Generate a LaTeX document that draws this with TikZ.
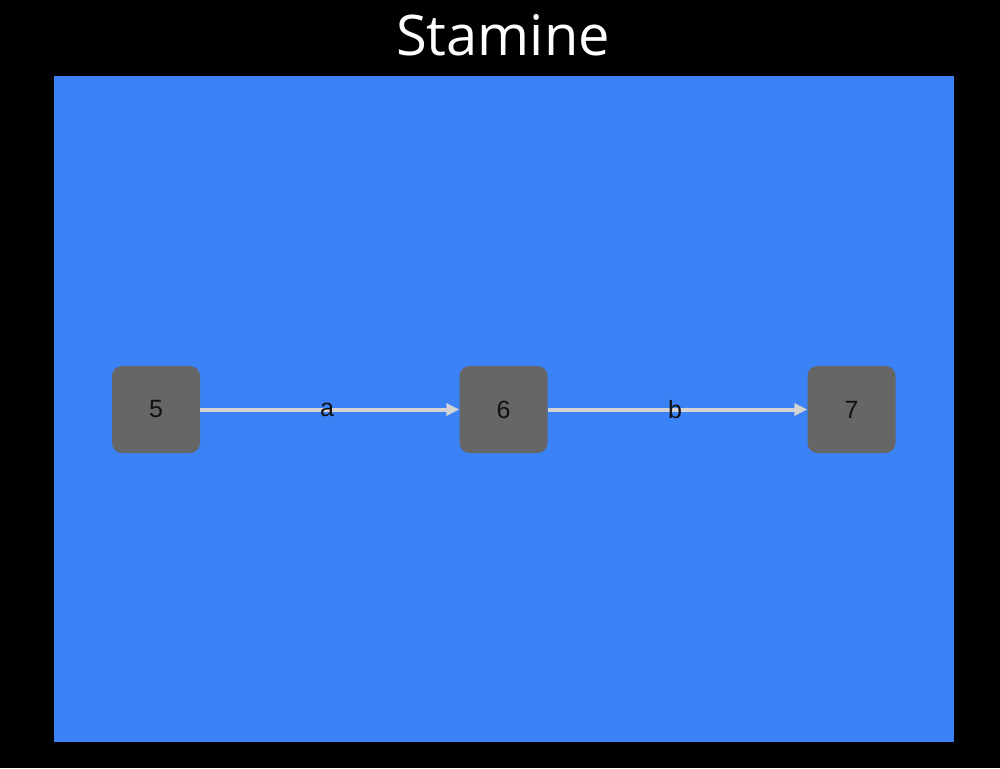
\documentclass[tikz,border=0pt]{standalone}
\usepackage{fontspec}
\setmainfont{Liberation Sans}
\newfontfamily\titlefont{Open Sans}
\usetikzlibrary{arrows.meta}
\definecolor{bgblue}{HTML}{3B82F6}
\definecolor{nodegray}{HTML}{666666}
\definecolor{edgegray}{HTML}{D3D3D3}
\definecolor{labelcol}{HTML}{111111}
\tikzset{
  box/.style={fill=nodegray, rounded corners=10pt, minimum width=88pt, minimum height=87pt, inner sep=0pt, font=\fontsize{25}{30}\selectfont, text=labelcol},
  edge/.style={draw=edgegray, line width=4pt, -{Triangle[length=13pt,width=12pt]}},
  elabel/.style={font=\fontsize{25}{30}\selectfont, text=labelcol}
}
\begin{document}
\begin{tikzpicture}[x=1pt,y=-1pt]
\fill[black] (0,0) rectangle (1000,768);
\useasboundingbox (0,0) rectangle (1000,768);
\fill[bgblue] (54,76) rectangle (954,742);
\node[font=\titlefont\fontsize{56}{66}\selectfont, text=white] (title) at (503,35) {Stamine};
\node[box] (n5) at (156,409.5) {5};
\node[box] (n6) at (503.5,409.5) {6};
\node[box] (n7) at (851.5,409.5) {7};
\draw[edge] (n5) -- (n6);
\draw[edge] (n6) -- (n7);
\node[elabel] (la) at (327,409.5) {a};
\node[elabel] (lb) at (675,409.5) {b};
\end{tikzpicture}
\end{document}
